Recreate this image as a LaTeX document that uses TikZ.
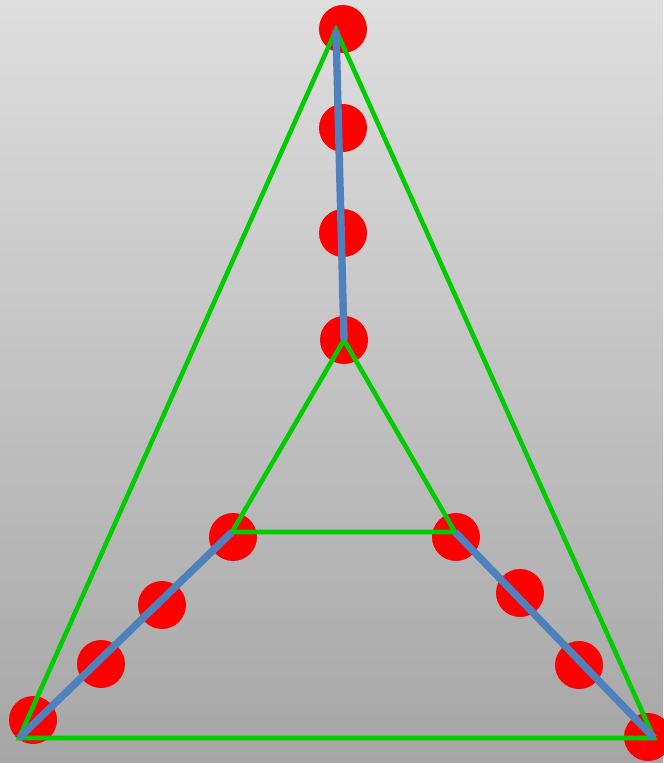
\documentclass[tikz,border=0pt]{standalone}
\usepackage{tikz}
\usetikzlibrary{calc}
\definecolor{dotred}{RGB}{255, 0, 0}
\definecolor{edgegreen}{RGB}{0, 204, 0}
\definecolor{spokeblue}{RGB}{79, 129, 189}
\begin{document}
\begin{tikzpicture}[x=0.02cm, y=-0.02cm,
    dot/.style={circle, fill=dotred, inner sep=0pt, minimum size=0.96cm},
    edge/.style={draw=edgegreen, line width=2.6pt, line join=miter},
    spoke/.style={draw=spokeblue, line width=4.2pt}]
        % Background
        \shade[top color={rgb,255:red,222;green,222;blue,222}, bottom color={rgb,255:red,166;green,166;blue,166}] (0,0) rectangle (663,763);
        \useasboundingbox (0,0) rectangle (663,763);
        % Red dots
        \node[dot] (d1) at (343,29) {};
        \node[dot] (d2) at (343,128) {};
        \node[dot] (d3) at (343,233) {};
        \node[dot] (d4) at (344,340) {};
        \node[dot] (d5) at (233,537) {};
        \node[dot] (d6) at (162,605) {};
        \node[dot] (d7) at (101,664) {};
        \node[dot] (d8) at (33,720) {};
        \node[dot] (d9) at (456,537) {};
        \node[dot] (d10) at (520,593) {};
        \node[dot] (d11) at (579,665) {};
        \node[dot] (d12) at (648,737) {};
        % Triangle corners
        \coordinate (outtop) at (336,30);
        \coordinate (outleft) at (19,738);
        \coordinate (outright) at (654,738);
        \coordinate (intop) at (344,340);
        \coordinate (inleft) at (232,532);
        \coordinate (inright) at (455,532);
        % Green triangles
        \draw[edge] (outtop) -- (outleft) -- (outright) -- cycle;
        \draw[edge] (intop) -- (inleft) -- (inright) -- cycle;
        % Blue spokes
        \draw[spoke] (outtop) -- (intop);
        \draw[spoke] (outleft) -- (inleft);
        \draw[spoke] (outright) -- (inright);
\end{tikzpicture}
\end{document}
